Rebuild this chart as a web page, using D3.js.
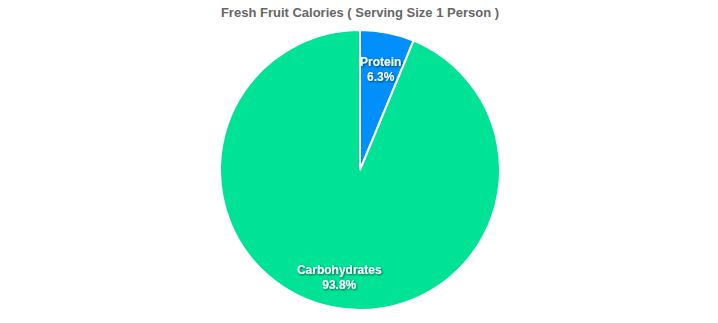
<!DOCTYPE html>
<html>
<head>
<meta charset="utf-8">
<script src="https://cdn.jsdelivr.net/npm/d3@7"></script>
<style>
  body { margin: 0; background: #fff; }
  svg { display: block; font-family: "Liberation Sans", Arial, sans-serif; }
</style>
</head>
<body>
<svg width="718" height="323"></svg>
<script>
const labels = ["Protein", "Carbohydrates"];
const values = [6.25, 93.75];
const colors = ["#008ffb", "#00e396"];

const svg = d3.select("svg");
const cx = 360, cy = 170, radius = 140;

svg.append("text")
   .attr("x", cx)
   .attr("y", 17)
   .attr("text-anchor", "middle")
   .style("font-size", "13px")
   .style("font-weight", "bold")
   .style("fill", "#666")
   .text("Fresh Fruit Calories ( Serving Size 1 Person )");

const defs = svg.append("defs");
const shadow = defs.append("filter").attr("id", "shadow")
                   .attr("x", "-20%").attr("y", "-20%").attr("width", "140%").attr("height", "140%");
shadow.append("feDropShadow")
      .attr("dx", 1).attr("dy", 1).attr("stdDeviation", 1)
      .attr("flood-color", "#000").attr("flood-opacity", 0.6);

const pie = d3.pie().sort(null).value(d => d);
const arcs = pie(values);
const arc = d3.arc().innerRadius(0).outerRadius(radius);
const labelArc = d3.arc().innerRadius(radius * 0.76).outerRadius(radius * 0.76);

const chart = svg.append("g").attr("transform", `translate(${cx}, ${cy})`);

chart.selectAll("path")
     .data(arcs)
     .enter()
     .append("path")
     .attr("d", arc)
     .attr("fill", (d, i) => colors[i])
     .attr("stroke", "#fff")
     .attr("stroke-width", 2);

const total = d3.sum(values);

const lbl = chart.selectAll(".label")
     .data(arcs)
     .enter()
     .append("text")
     .attr("class", "label")
     .attr("transform", d => `translate(${labelArc.centroid(d)})`)
     .attr("text-anchor", "middle")
     .attr("filter", "url(#shadow)")
     .style("font-size", "12px")
     .style("font-weight", "bold")
     .style("fill", "#fff");

lbl.append("tspan")
   .attr("x", 0)
   .attr("dy", "0em")
   .text((d, i) => labels[i]);

lbl.append("tspan")
   .attr("x", 0)
   .attr("dy", "1.25em")
   .text(d => (d.value / total * 100).toFixed(1) + "%");
</script>
</body>
</html>
